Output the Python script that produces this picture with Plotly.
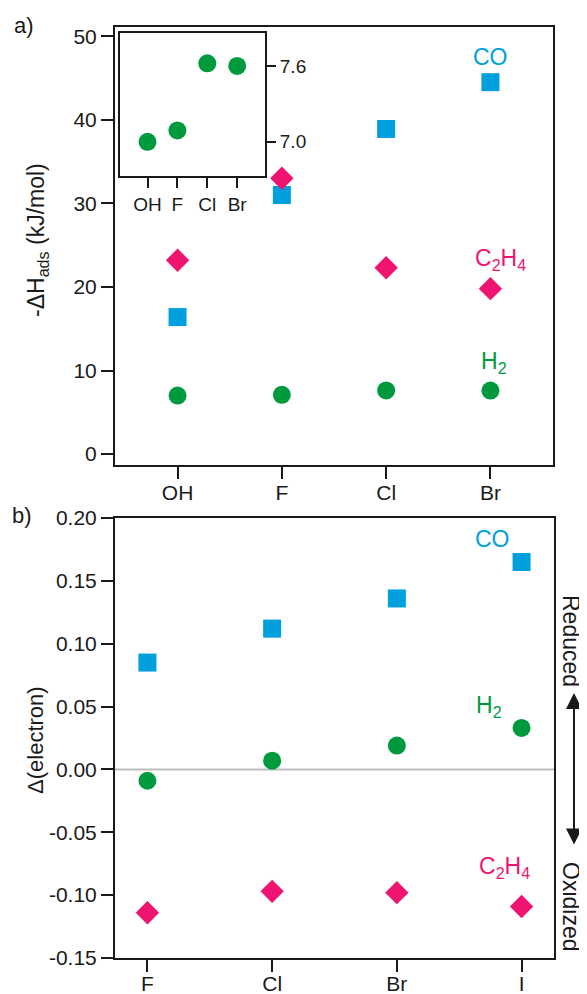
import plotly.graph_objects as go

FONT = "Liberation Sans, Arial, Helvetica, sans-serif"
INK = "#1a1a1a"
BLUE = "#00A0DE"
PINK = "#EE1470"
GREEN = "#009A3E"

# ---- panel a) data ----
cats_a = ["OH", "F", "Cl", "Br"]
co_a = [16.4, 31.0, 38.9, 44.5]
c2h4_a = [23.2, 33.0, 22.3, 19.8]
h2_a = [7.0, 7.09, 7.62, 7.60]
ticks_a = [0, 10, 20, 30, 40, 50]
inset_ticks = [7.0, 7.6]

# ---- panel b) data ----
cats_b = ["F", "Cl", "Br", "I"]
co_b = [0.085, 0.112, 0.136, 0.165]
h2_b = [-0.009, 0.007, 0.019, 0.033]
c2h4_b = [-0.114, -0.097, -0.098, -0.109]
ticks_b = [-0.15, -0.10, -0.05, 0.00, 0.05, 0.10, 0.15, 0.20]

# page body margin offsets the figure by 8px; compensate
OFF = 8
W, H = 587 - OFF, 994 - OFF


def px_x(p):
    return (p - OFF) / W


def px_y(p):
    return 1 - (p - OFF) / H


fig = go.Figure()


def add_series(x, y, color, symbol, size, xa, ya):
    fig.add_trace(go.Scatter(
        x=x, y=y, mode="markers", xaxis=xa, yaxis=ya,
        marker=dict(color=color, symbol=symbol, size=size, line=dict(width=0)),
        showlegend=False, cliponaxis=False))


# panel a
add_series(cats_a, co_a, BLUE, "square", 18, "x", "y")
add_series(cats_a, c2h4_a, PINK, "diamond", 18, "x", "y")
add_series(cats_a, h2_a, GREEN, "circle", 18, "x", "y")
# inset
add_series(cats_a, h2_a, GREEN, "circle", 18, "x3", "y3")
# panel b
add_series(cats_b, co_b, BLUE, "square", 18, "x2", "y2")
add_series(cats_b, c2h4_b, PINK, "diamond", 18, "x2", "y2")
add_series(cats_b, h2_b, GREEN, "circle", 18, "x2", "y2")


def ax(**kw):
    base = dict(showline=True, linecolor=INK, linewidth=2, mirror=True,
                ticks="outside", ticklen=12, tickwidth=2, tickcolor=INK,
                showgrid=False, zeroline=False, automargin=False,
                tickfont=dict(size=21, family=FONT, color=INK))
    base.update(kw)
    return base


fig.update_layout(
    template="none",
    width=W, height=H,
    margin=dict(l=0, r=0, t=0, b=0, pad=0),
    paper_bgcolor="white", plot_bgcolor="white",
    font=dict(family=FONT, color=INK),
    xaxis=ax(domain=[px_x(115), px_x(553)], anchor="y", type="category",
             range=[-0.6, 3.6], ticklabelstandoff=-4),
    yaxis=ax(domain=[px_y(465), px_y(27)], anchor="x", range=[-1.3, 51.1],
             tickvals=ticks_a, ticktext=[str(v) for v in ticks_a]),
    xaxis2=ax(domain=[px_x(115), px_x(554)], anchor="y2", type="category",
              range=[-0.26, 3.26], ticklabelstandoff=-6),
    yaxis2=ax(domain=[px_y(958), px_y(518)], anchor="x2", range=[-0.15, 0.20],
              tickvals=ticks_b, ticktext=["%.2f" % v for v in ticks_b]),
    xaxis3=ax(domain=[px_x(120), px_x(265)], anchor="y3", type="category",
              range=[-0.92, 3.93], ticklen=10,
              tickfont=dict(size=19, family=FONT, color=INK)),
    yaxis3=ax(domain=[px_y(176), px_y(33)], anchor="x3", side="right",
              range=[6.73, 7.86], tickvals=inset_ticks,
              ticktext=["%.1f" % v for v in inset_ticks],
              ticklen=9, tickfont=dict(size=19, family=FONT, color=INK)),
)

# zero line in panel b
fig.add_shape(type="line", xref="x2 domain", yref="y2", x0=0, x1=1, y0=0, y1=0,
              line=dict(color="#bdbdbd", width=2), layer="below")

ann = []


def label(text, x, y, color, xref, yref, size=23, angle=0):
    ann.append(dict(text=text, x=x, y=y, xref=xref, yref=yref, showarrow=False,
                    xanchor="center", yanchor="middle", textangle=angle,
                    font=dict(size=size, color=color, family=FONT)))


# series labels panel a
label("CO", 3.0, 47.5, BLUE, "x", "y")
label("C<sub>2</sub>H<sub>4</sub>", 3.1, 23.3, PINK, "x", "y")
label("H<sub>2</sub>", 3.03, 11.0, GREEN, "x", "y")
# series labels panel b
label("CO", 2.77, 0.183, BLUE, "x2", "y2")
label("H<sub>2</sub>", 2.74, 0.050, GREEN, "x2", "y2")
label("C<sub>2</sub>H<sub>4</sub>", 2.86, -0.078, PINK, "x2", "y2")

# panel letters
label("a)", px_x(24), px_y(26), INK, "paper", "paper", size=22)
label("b)", px_x(22), px_y(515), INK, "paper", "paper", size=22)

# y titles
label("-ΔH<sub>ads</sub> (kJ/mol)", px_x(37), px_y(240), INK, "paper", "paper",
      size=23, angle=-90)
label("Δ(electron)", px_x(35), px_y(740), INK, "paper", "paper", size=22, angle=-90)

# Reduced / Oxidized
label("Reduced", px_x(571), px_y(641), INK, "paper", "paper", size=23, angle=90)
label("Oxidized", px_x(571), px_y(906), INK, "paper", "paper", size=23, angle=90)

# double arrow
ann.append(dict(text="", x=px_x(574), y=px_y(693), xref="paper", yref="paper",
                showarrow=True, ax=0, ay=153, arrowside="end+start",
                arrowhead=2, startarrowhead=2, arrowsize=1.6, startarrowsize=1.6,
                arrowwidth=2, arrowcolor=INK))

fig.update_layout(annotations=ann)

fig.write_html("out.html")
